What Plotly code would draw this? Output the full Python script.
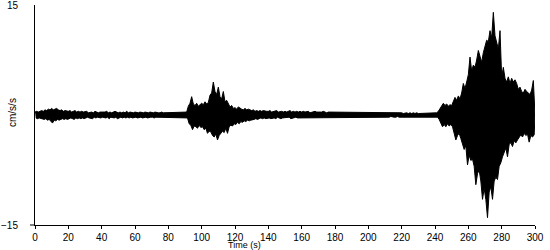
import plotly.graph_objects as go

# Envelope of the record, one value per second (t = 0..299 s)
time_s = list(range(0, 300))
upper = [
    0.4,0.5,0.4,0.5,0.6,0.5,0.7,0.6,0.8,0.7,
    0.9,0.7,0.8,0.9,0.7,0.6,0.7,0.5,0.6,0.5,
    0.5,0.6,0.4,0.5,0.6,0.4,0.5,0.4,0.5,0.4,
    0.4,0.5,0.3,0.4,0.4,0.3,0.5,0.4,0.3,0.4,
    0.4,0.3,0.4,0.5,0.3,0.4,0.3,0.4,0.5,0.4,
    0.3,0.4,0.3,0.4,0.3,0.5,0.3,0.4,0.3,0.3,
    0.4,0.3,0.3,0.4,0.3,0.3,0.4,0.3,0.3,0.4,
    0.3,0.3,0.4,0.3,0.3,0.3,0.4,0.3,0.3,0.3,
    0.3,0.3,0.3,0.4,0.3,0.3,0.3,0.3,0.3,0.3,
    0.3,0.4,1.2,1.6,2.5,1.5,1.3,1.6,1.2,1.4,
    1.6,1.4,1.8,1.5,1.7,2.7,3.0,4.5,3.2,2.8,
    3.8,2.5,2.2,3.2,1.8,2.0,1.5,1.1,1.3,0.9,
    1.0,0.8,1.1,0.9,0.8,0.7,0.9,0.7,0.8,0.7,
    0.6,0.7,0.5,0.6,0.5,0.6,0.5,0.6,0.5,0.5,
    0.5,0.6,0.4,0.5,0.5,0.6,0.4,0.5,0.5,0.4,
    0.5,0.4,0.5,0.6,0.4,0.5,0.4,0.5,0.4,0.5,
    0.4,0.5,0.4,0.4,0.5,0.3,0.4,0.4,0.5,0.4,
    0.4,0.3,0.4,0.5,0.4,0.3,0.4,0.4,0.3,0.4,
    0.3,0.4,0.4,0.3,0.4,0.3,0.4,0.3,0.4,0.3,
    0.3,0.4,0.3,0.3,0.4,0.3,0.3,0.4,0.3,0.3,
    0.3,0.3,0.4,0.3,0.3,0.3,0.3,0.4,0.3,0.3,
    0.3,0.3,0.3,0.3,0.3,0.3,0.3,0.3,0.3,0.3,
    0.3,0.2,0.3,0.3,0.2,0.3,0.2,0.3,0.2,0.3,
    0.2,0.2,0.2,0.2,0.2,0.2,0.2,0.2,0.2,0.2,
    0.2,0.3,0.5,0.9,1.4,1.6,1.3,1.5,1.2,1.4,
    1.3,1.8,2.4,2.0,2.6,2.2,3.0,4.3,3.6,4.5,
    5.5,7.9,6.0,6.8,6.5,7.5,8.8,8.0,7.2,8.5,
    9.5,10.2,10.0,11.5,10.5,14.0,10.8,9.8,9.0,11.5,
    5.2,6.5,5.0,4.5,5.2,4.3,5.0,4.5,4.8,4.3,
    3.5,3.8,3.2,3.0,3.5,3.2,3.0,2.8,3.4,4.7,
]
lower = [
    -0.4,-0.5,-0.4,-0.5,-0.5,-0.6,-0.5,-0.7,-0.6,-0.8,
    -1.1,-0.7,-0.8,-0.6,-0.7,-0.6,-0.5,-0.6,-0.5,-0.6,
    -0.5,-0.4,-0.5,-0.6,-0.4,-0.5,-0.4,-0.5,-0.4,-0.5,
    -0.4,-0.3,-0.4,-0.4,-0.5,-0.3,-0.4,-0.3,-0.4,-0.4,
    -0.3,-0.4,-0.4,-0.3,-0.5,-0.3,-0.4,-0.4,-0.3,-0.5,
    -0.4,-0.3,-0.4,-0.3,-0.4,-0.3,-0.4,-0.3,-0.4,-0.3,
    -0.3,-0.4,-0.3,-0.3,-0.4,-0.3,-0.3,-0.4,-0.3,-0.3,
    -0.3,-0.4,-0.3,-0.3,-0.3,-0.4,-0.3,-0.3,-0.3,-0.3,
    -0.3,-0.3,-0.4,-0.3,-0.3,-0.3,-0.3,-0.3,-0.3,-0.3,
    -0.3,-0.4,-1.2,-1.4,-2.0,-1.5,-1.6,-1.8,-1.4,-1.7,
    -1.6,-2.0,-1.8,-2.5,-2.2,-2.3,-2.8,-3.0,-2.6,-3.4,
    -2.8,-2.5,-2.2,-2.4,-1.8,-2.5,-1.6,-1.4,-1.5,-1.2,
    -1.3,-1.0,-1.2,-0.9,-1.0,-0.8,-0.9,-0.7,-0.8,-0.7,
    -0.7,-0.6,-0.5,-0.6,-0.5,-0.4,-0.5,-0.4,-0.5,-0.4,
    -0.4,-0.5,-0.4,-0.4,-0.5,-0.3,-0.4,-0.5,-0.4,-0.4,
    -0.4,-0.4,-0.3,-0.5,-0.4,-0.4,-0.3,-0.4,-0.4,-0.3,
    -0.4,-0.3,-0.4,-0.3,-0.4,-0.3,-0.4,-0.3,-0.4,-0.3,
    -0.3,-0.4,-0.3,-0.3,-0.4,-0.3,-0.3,-0.4,-0.3,-0.3,
    -0.3,-0.3,-0.4,-0.3,-0.3,-0.3,-0.4,-0.3,-0.3,-0.3,
    -0.3,-0.3,-0.3,-0.4,-0.3,-0.3,-0.3,-0.3,-0.3,-0.3,
    -0.3,-0.3,-0.3,-0.3,-0.3,-0.3,-0.3,-0.3,-0.3,-0.3,
    -0.3,-0.3,-0.3,-0.2,-0.3,-0.3,-0.3,-0.2,-0.3,-0.3,
    -0.2,-0.3,-0.2,-0.2,-0.3,-0.2,-0.2,-0.2,-0.2,-0.2,
    -0.2,-0.2,-0.2,-0.2,-0.2,-0.2,-0.2,-0.2,-0.2,-0.2,
    -0.2,-0.3,-0.6,-1.0,-1.6,-1.3,-1.6,-1.2,-1.5,-1.3,
    -1.6,-2.5,-3.4,-2.8,-2.5,-3.2,-4.0,-4.7,-4.2,-6.8,
    -5.5,-6.2,-6.0,-7.0,-9.5,-8.0,-7.5,-9.0,-11.5,-10.0,
    -11.5,-14.0,-10.5,-9.8,-11.5,-9.0,-8.5,-8.8,-7.0,-6.5,
    -5.7,-5.0,-4.5,-5.7,-4.0,-3.8,-4.3,-3.5,-3.8,-3.4,
    -3.0,-2.7,-3.0,-2.5,-2.8,-2.6,-3.7,-2.8,-3.0,-2.7,
]
end_time = 300
end_value = 0.0

x_ticks = list(range(0, 301, 20))
y_ticks = [-15, 15]
x_label = "Time (s)"
y_label = "cm/s/s"

font = "Liberation Sans, Arial, sans-serif"

# upper peaks and lower peaks (offset by half a second); the area between them is filled
x_up = time_s + [end_time]
y_up = upper + [end_value]
x_lo = [t + 0.5 for t in time_s] + [end_time]
y_lo = lower + [end_value]

fig = go.Figure()
fig.add_trace(go.Scatter(x=x_up, y=y_up, mode="lines",
                         line=dict(color="black", width=1), hoverinfo="skip"))
fig.add_trace(go.Scatter(x=x_lo, y=y_lo, mode="lines", fill="tonexty",
                         fillcolor="black",
                         line=dict(color="black", width=1), hoverinfo="skip"))

fig.update_layout(
    width=550, height=250,
    margin=dict(l=35, r=15, t=5, b=25, autoexpand=False),
    paper_bgcolor="white", plot_bgcolor="white",
    showlegend=False,
    font=dict(family=font, size=10, color="black"),
    xaxis=dict(range=[0, 300], tickvals=x_ticks, ticks="outside", ticklen=3,
               tickcolor="black", showline=True, linecolor="black", linewidth=1,
               showgrid=False, zeroline=False, tickfont=dict(size=10),
               automargin=False),
    yaxis=dict(range=[-15, 15], tickvals=y_ticks, ticks="", showline=True,
               linecolor="black", linewidth=1, showgrid=False, zeroline=False,
               ticklabelstandoff=14, ticklabeloverflow="allow",
               tickfont=dict(size=10), automargin=False),
    annotations=[
        dict(text=x_label, x=(244 - 35) / 500, y=(225 - 250.5) / 220,
             xref="paper", yref="paper", borderpad=0,
             xanchor="center", yanchor="bottom", showarrow=False,
             font=dict(size=9)),
        dict(text=y_label, x=(12 - 35) / 500, y=(225 - 113) / 220,
             xref="paper", yref="paper", xanchor="center", yanchor="middle",
             showarrow=False, textangle=-90, font=dict(size=10)),
    ],
    shapes=[dict(type="line", xref="paper", yref="paper",
                 x0=-0.01, x1=0, y0=0, y1=0,
                 line=dict(color="black", width=1))],
)

fig.write_html("out.html")
